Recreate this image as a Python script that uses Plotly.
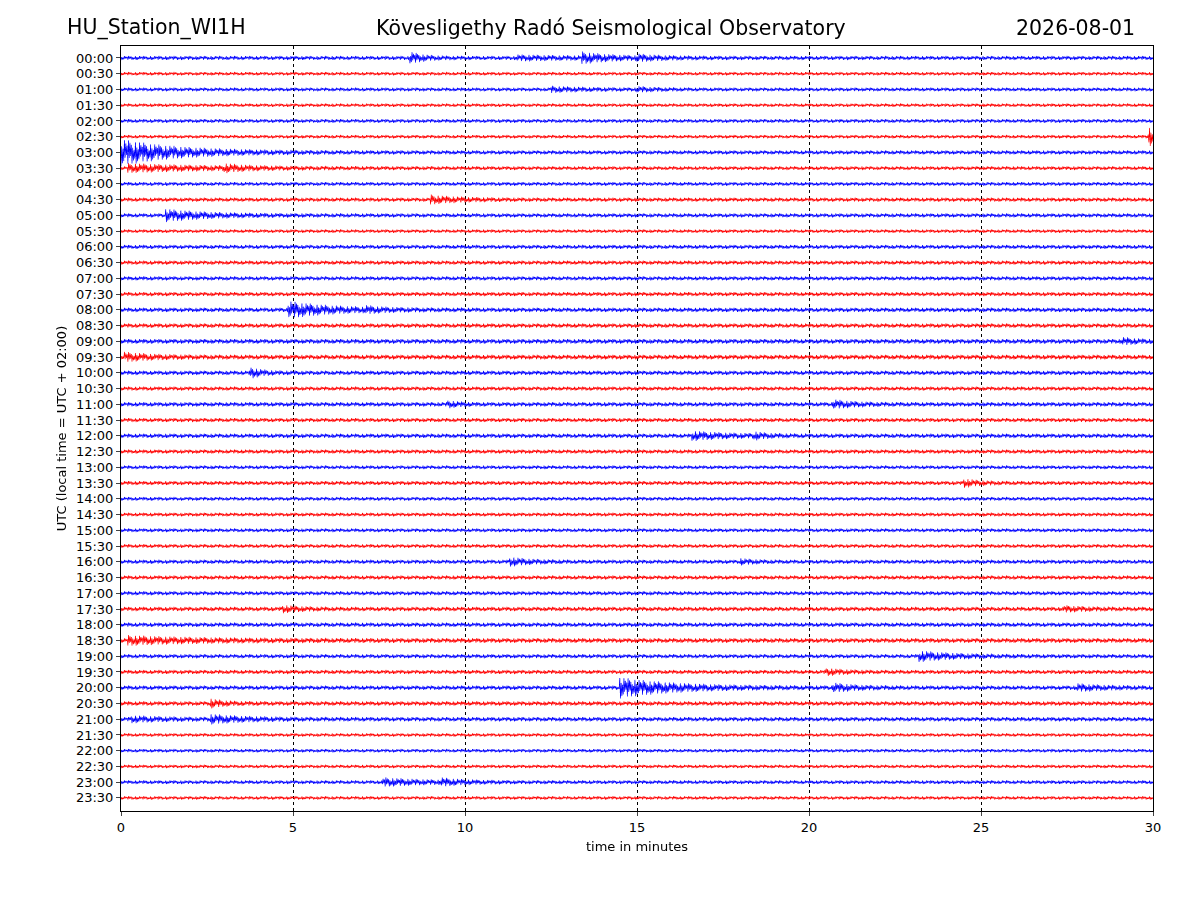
import plotly.graph_objects as go
import numpy as np

row_labels = [f"{h:02d}:{m:02d}" for h in range(24) for m in (0, 30)]
minutes_ticks = [0, 5, 10, 15, 20, 25, 30]
# background noise half-amplitude per trace (in row units)
base_amp = [0.13,0.11,0.12,0.11,0.12,0.11,0.13,0.12,0.12,0.13,0.13,0.11,0.13,0.13,0.13,0.13,
            0.14,0.14,0.15,0.15,0.14,0.13,0.14,0.13,0.14,0.13,0.12,0.13,0.12,0.12,0.12,0.12,
            0.13,0.13,0.13,0.14,0.14,0.15,0.13,0.13,0.14,0.14,0.14,0.11,0.11,0.11,0.12,0.11]
# events: (row, start minute, peak half-amplitude, decay minutes)
events = [(0,8.4,0.3,0.4),(0,11.5,0.1,2.0),(0,13.4,0.25,0.8),(0,15.0,0.12,0.6),
          (2,12.5,0.12,1.0),(2,15.0,0.1,0.5),(5,29.85,0.6,0.3),
          (6,0.0,0.75,1.6),(7,0.2,0.2,2.5),(7,3.0,0.15,0.6),(9,9.0,0.2,0.8),
          (10,1.3,0.3,1.2),(16,4.85,0.45,1.2),(16,7.1,0.12,0.4),(18,29.1,0.15,0.4),
          (19,0.1,0.2,0.8),(20,3.75,0.3,0.3),(22,9.5,0.15,0.3),(22,20.7,0.2,0.6),
          (24,16.6,0.2,1.0),(24,18.4,0.15,0.3),(27,24.5,0.2,0.4),(32,11.3,0.2,0.6),
          (32,18.0,0.12,0.4),(35,4.7,0.15,0.5),(35,27.4,0.12,0.6),(37,0.2,0.2,2.0),
          (38,23.2,0.25,1.0),(39,20.5,0.15,0.5),(40,14.5,0.55,1.5),(40,20.7,0.2,0.6),
          (40,27.8,0.15,0.8),(41,2.6,0.2,0.4),(42,0.3,0.12,1.0),(42,2.6,0.2,1.0),
          (46,7.6,0.2,1.2),(46,9.3,0.15,0.6)]

x = np.arange(0, 30.0001, 0.02)
sign = np.where(np.arange(len(x)) % 2 == 0, 1.0, -1.0)
mod = np.array([1.0, 0.45, 0.8, 0.3, 0.65, 0.95, 0.4, 0.7, 0.2, 0.55, 0.9])[np.arange(len(x)) % 11]

xs = {"blue": [], "red": []}
ys = {"blue": [], "red": []}
for r in range(48):
    env = np.full_like(x, base_amp[r])
    for (er, t0, a, d) in events:
        if er == r:
            m = x >= t0
            env[m] += a * np.exp(-(x[m] - t0) / d)
    y = r + sign * mod * env
    c = "blue" if r % 2 == 0 else "red"
    xs[c] += list(x) + [None]
    ys[c] += list(y) + [None]

fig = go.Figure()
for c in ("blue", "red"):
    fig.add_trace(go.Scattergl(x=xs[c], y=ys[c], mode="lines",
                               line=dict(color=c, width=0.7), hoverinfo="skip"))

fig.update_layout(
    width=1200, height=900, showlegend=False,
    paper_bgcolor="white", plot_bgcolor="white",
    margin=dict(l=113, r=55, t=38, b=97, autoexpand=False),
    font=dict(family="DejaVu Sans", color="black", size=13),
    xaxis=dict(range=[0, 30], tickvals=minutes_ticks, ticks="outside", ticklen=4,
               showgrid=True, gridcolor="black", griddash="dot", gridwidth=0.5,
               showline=True, linecolor="black", mirror=True, zeroline=False, automargin=False,
               title=dict(text="time in minutes", font=dict(size=13), standoff=8)),
    yaxis=dict(range=[47.83, -0.76], tickvals=list(range(48)), ticktext=row_labels,
               ticks="outside", ticklen=4, showgrid=False, zeroline=False, automargin=False,
               showline=True, linecolor="black", mirror=True,
               title=dict(text="UTC (local time = UTC + 02:00)", font=dict(size=13), standoff=6)),
)
for txt, xx, anc in [("HU_Station_WI1H", -0.054, "left"),
                     ("Kövesligethy Radó Seismological Observatory", 0.475, "center"),
                     ("2026-08-01", 0.9845, "right")]:
    fig.add_annotation(text=txt, xref="paper", yref="paper", x=xx, y=1.0,
                       xanchor=anc, yanchor="bottom", yshift=4, showarrow=False,
                       font=dict(size=20.5))
fig.write_html("out.html")
